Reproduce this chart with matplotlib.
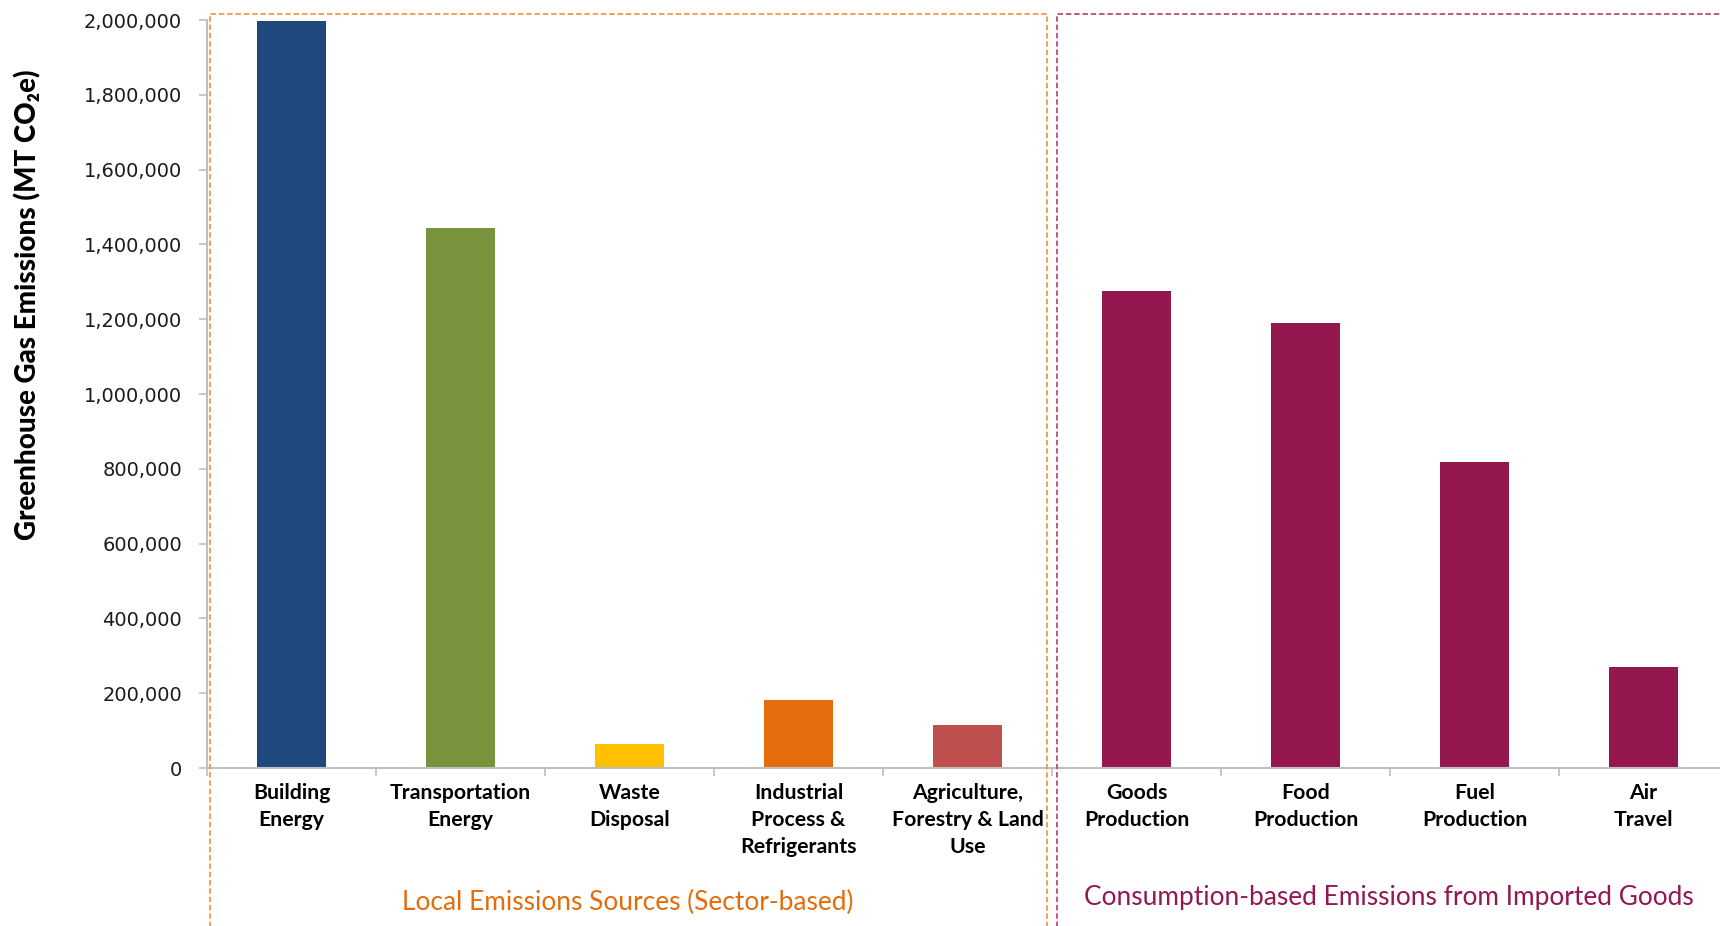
import matplotlib
matplotlib.use("Agg")
import matplotlib.pyplot as plt
from matplotlib.lines import Line2D
from matplotlib.ticker import FuncFormatter, FixedLocator
import numpy as np

# Emission sources and their totals (MT CO2e)
categories = ["Building\nEnergy", "Transportation\nEnergy", "Waste\nDisposal",
              "Industrial\nProcess &\nRefrigerants", "Agriculture,\nForestry & Land\nUse",
              "Goods\nProduction", "Food\nProduction", "Fuel\nProduction", "Air\nTravel"]
emissions = [1998000, 1444000, 64000, 182000, 115000,
             1275000, 1190000, 818000, 270000]
bar_colors = ["#1F497D", "#77933C", "#FFC000", "#E46C0A", "#C0504D",
              "#951750", "#951750", "#951750", "#951750"]
y_ticks = [0, 200000, 400000, 600000, 800000, 1000000,
           1200000, 1400000, 1600000, 1800000, 2000000]
group_labels = ["Local Emissions Sources (Sector-based)",
                "Consumption-based Emissions from Imported Goods"]
group_colors = ["#E46C0A", "#951750"]
box_colors = ["#F79646", "#BA4A80"]

W, H = 1720, 926
fig = plt.figure(figsize=(W / 100, H / 100), dpi=100)
ax = fig.add_axes([207 / W, 158 / H, 1521 / W, 748 / H])

x = np.arange(len(categories))
ax.bar(x, emissions, width=0.41, color=bar_colors, zorder=2)

ax.set_xlim(-0.5, len(categories) - 0.5)
ax.set_ylim(0, 2000000)

for s in ["top", "right"]:
    ax.spines[s].set_visible(False)
for s in ["left", "bottom"]:
    ax.spines[s].set_color("#BFBFBF")
    ax.spines[s].set_linewidth(1.5)

ax.yaxis.set_major_locator(FixedLocator(y_ticks))
ax.yaxis.set_major_formatter(FuncFormatter(lambda v, p: f"{int(v):,}"))
ax.tick_params(axis="y", length=6, width=1.2, color="#BFBFBF", pad=12,
               labelsize=14, labelcolor="#1A1A1A")
for lbl in ax.get_yticklabels():
    lbl.set_fontfamily("DejaVu Sans")

ax.set_xticks(x)
ax.set_xticklabels(categories, fontsize=15.3, fontweight="bold",
                   fontfamily="Lato", linespacing=1.42)
ax.tick_params(axis="x", which="major", length=0, pad=11)
ax.set_xticks(np.arange(-0.5, len(categories)), minor=True)
ax.tick_params(axis="x", which="minor", length=6, width=1.2, color="#BFBFBF")

fig.text(28 / W, 1 - 305 / H, "Greenhouse Gas Emissions (MT CO\u2082e)",
         rotation=90, ha="center", va="center", fontsize=20, fontweight="black",
         family=["Lato", "DejaVu Sans"], color="black")

# dashed group boxes, open at the bottom
def fx(px):
    return px / W

def fy(py):
    return 1 - py / H

dash = (0, (3, 1.6))
boxes = [(210, 1047), (1057, 1740)]
for (left, right), c in zip(boxes, box_colors):
    xs = [fx(left), fx(left), fx(right), fx(right)]
    ys = [fy(H + 5), fy(14), fy(14), fy(H + 5)]
    fig.add_artist(Line2D(xs, ys, transform=fig.transFigure, color=c,
                          lw=1.3, linestyle=dash))

fig.text(fx(628), fy(902), group_labels[0], ha="center", va="center",
         fontsize=18.9, fontfamily="Lato", color=group_colors[0])
fig.text(fx(1389), fy(898), group_labels[1], ha="center", va="center",
         fontsize=18.9, fontfamily="Lato", color=group_colors[1])

fig.savefig("out.png", dpi=100)
